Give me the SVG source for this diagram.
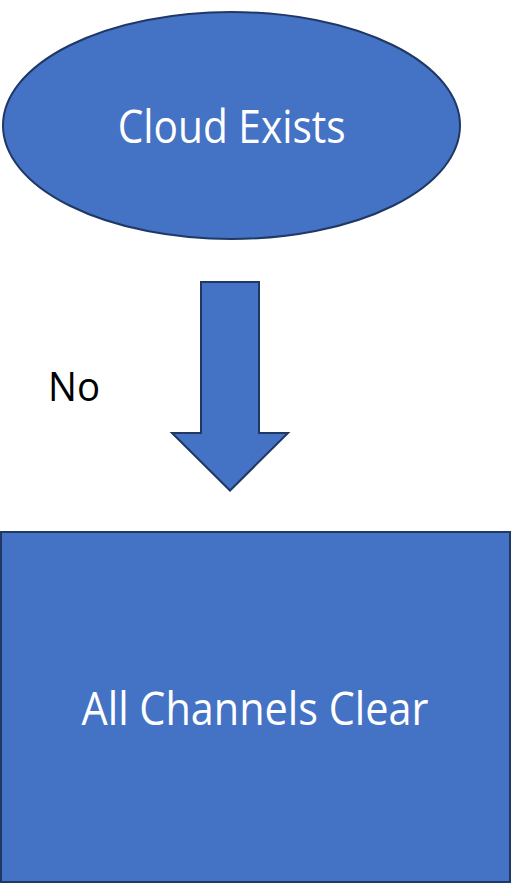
<svg xmlns="http://www.w3.org/2000/svg" width="519" height="887" viewBox="0 0 519 887">
  <style>
    .shape { fill: #4472C4; stroke: #1F3864; stroke-width: 2; }
    .label { font-family: "Open Sans", "Liberation Sans", sans-serif; font-size: 45px; fill: #FFFFFF; text-anchor: middle; }
    .edge-label { font-family: "Open Sans", "Liberation Sans", sans-serif; font-size: 41px; fill: #000000; }
  </style>
  <rect width="519" height="887" fill="#FFFFFF"/>
  <g id="cloud-exists">
    <ellipse class="shape" cx="231.5" cy="125.5" rx="228.5" ry="113.5"/>
    <text class="label" x="231.7" y="143" textLength="228" lengthAdjust="spacingAndGlyphs">Cloud Exists</text>
  </g>
  <g id="connectors">
    <polygon class="shape" points="201,282 259,282 259,433 288,433 230,490.5 172,433 201,433"/>
    <text class="edge-label" x="48" y="400.5" textLength="52" lengthAdjust="spacingAndGlyphs">No</text>
  </g>
  <g id="all-channels-clear">
    <rect class="shape" x="1" y="532" width="509" height="350"/>
    <text class="label" x="255" y="725" textLength="347" lengthAdjust="spacingAndGlyphs">All Channels Clear</text>
  </g>
</svg>
